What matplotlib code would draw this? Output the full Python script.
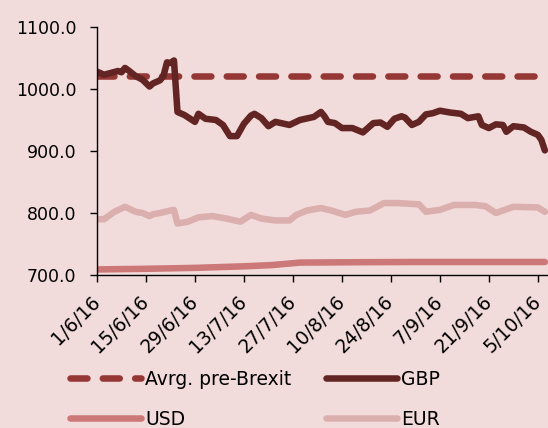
import numpy as np
import pandas as pd
import matplotlib
matplotlib.use('Agg')
import matplotlib.pyplot as plt

# values
gbp_dates = ['2016-06-01', '2016-06-03', '2016-06-05', '2016-06-07', '2016-06-08', '2016-06-09',
             '2016-06-10', '2016-06-12', '2016-06-14', '2016-06-16', '2016-06-17', '2016-06-19',
             '2016-06-20', '2016-06-21', '2016-06-22', '2016-06-23', '2016-06-24', '2016-06-26',
             '2016-06-29', '2016-06-30', '2016-07-02', '2016-07-05', '2016-07-07', '2016-07-09',
             '2016-07-11', '2016-07-13', '2016-07-15', '2016-07-16', '2016-07-18', '2016-07-20',
             '2016-07-22', '2016-07-26', '2016-07-29', '2016-08-02', '2016-08-04', '2016-08-05',
             '2016-08-06', '2016-08-08', '2016-08-10', '2016-08-13', '2016-08-16', '2016-08-19',
             '2016-08-21', '2016-08-23', '2016-08-25', '2016-08-27', '2016-08-28', '2016-08-30',
             '2016-09-01', '2016-09-03', '2016-09-05', '2016-09-07', '2016-09-10', '2016-09-13',
             '2016-09-15', '2016-09-18', '2016-09-19', '2016-09-21', '2016-09-23', '2016-09-25',
             '2016-09-26', '2016-09-28', '2016-10-01', '2016-10-03', '2016-10-05', '2016-10-06',
             '2016-10-07']
gbp_values = [1028, 1023, 1026, 1029, 1027, 1034,
              1030, 1021, 1015, 1004, 1009, 1014,
              1021, 1043, 1042, 1046, 963, 958,
              947, 960, 952, 950, 942, 924,
              924, 944, 957, 960, 953, 940,
              947, 942, 950, 955, 963, 956,
              947, 945, 937, 937, 930, 945,
              946, 939, 952, 956, 954, 942,
              947, 959, 961, 965, 962, 960,
              953, 956, 942, 937, 943, 942,
              931, 940, 938, 931, 926, 918,
              901]

eur_dates = ['2016-06-01', '2016-06-03', '2016-06-06', '2016-06-09', '2016-06-12', '2016-06-14',
             '2016-06-16', '2016-06-17', '2016-06-19', '2016-06-22', '2016-06-23', '2016-06-24',
             '2016-06-27', '2016-06-30', '2016-07-04', '2016-07-08', '2016-07-12', '2016-07-15',
             '2016-07-18', '2016-07-22', '2016-07-26', '2016-07-28', '2016-07-31', '2016-08-04',
             '2016-08-07', '2016-08-11', '2016-08-14', '2016-08-18', '2016-08-22', '2016-08-26',
             '2016-08-29', '2016-09-01', '2016-09-03', '2016-09-07', '2016-09-11', '2016-09-17',
             '2016-09-20', '2016-09-23', '2016-09-28', '2016-10-05', '2016-10-07']
eur_values = [790, 790, 802, 810, 802, 800,
              795, 798, 800, 804, 805, 783,
              786, 793, 795, 791, 786, 797,
              791, 788, 788, 797, 804, 808,
              804, 797, 802, 804, 816, 816,
              815, 814, 802, 805, 813, 813,
              811, 800, 810, 809, 802]

usd_dates = ['2016-06-01', '2016-06-15', '2016-06-29', '2016-07-13', '2016-07-21', '2016-07-29',
             '2016-08-10', '2016-08-30', '2016-09-19', '2016-10-07']
usd_values = [709, 710, 711.5, 714, 716, 720, 720.5, 721, 721, 721]

avg_pre_brexit = 1021

tick_dates = ['2016-06-01', '2016-06-15', '2016-06-29', '2016-07-13', '2016-07-27',
              '2016-08-10', '2016-08-24', '2016-09-07', '2016-09-21', '2016-10-05']
tick_labels = ['1/6/16', '15/6/16', '29/6/16', '13/7/16', '27/7/16',
               '10/8/16', '24/8/16', '7/9/16', '21/9/16', '5/10/16']

bg = '#F2DCDB'
c_avg = '#953735'
c_gbp = '#632523'
c_usd = '#CC7878'
c_eur = '#DCAFAF'
lw = 4.7

plt.rcParams['font.family'] = 'DejaVu Sans'

fig = plt.figure(figsize=(5.48, 4.28), dpi=100, facecolor=bg)
ax = fig.add_axes([97 / 548, 1 - 275 / 428, 1 - 97 / 548, (275 - 27) / 428])
ax.set_facecolor(bg)

gbp_x = pd.to_datetime(gbp_dates)
eur_x = pd.to_datetime(eur_dates)
usd_x = pd.to_datetime(usd_dates)

avg_line, = ax.plot([gbp_x[0], gbp_x[-1]], [avg_pre_brexit, avg_pre_brexit], color=c_avg, lw=lw,
                    dashes=(2.6, 2.35), dash_capstyle='round', label='Avrg. pre-Brexit')
gbp_line, = ax.plot(gbp_x, gbp_values, color=c_gbp, lw=lw, solid_joinstyle='round',
                    solid_capstyle='round', label='GBP')
usd_line, = ax.plot(usd_x, usd_values, color=c_usd, lw=lw, solid_capstyle='round', label='USD')
eur_line, = ax.plot(eur_x, eur_values, color=c_eur, lw=lw, solid_joinstyle='round',
                    solid_capstyle='round', label='EUR')

start = pd.Timestamp('2016-06-01')
ax.set_xlim(start, start + pd.Timedelta(days=128.9))
ax.set_ylim(700, 1100)
ax.set_yticks([700, 800, 900, 1000, 1100])
ax.set_yticklabels(['%.1f' % v for v in [700, 800, 900, 1000, 1100]])
ax.set_xticks(pd.to_datetime(tick_dates))
ax.set_xticklabels(tick_labels, rotation=45, ha='right', va='center', rotation_mode='anchor')

for s in ['top', 'right']:
    ax.spines[s].set_visible(False)
for s in ['left', 'bottom']:
    ax.spines[s].set_linewidth(1.0)
ax.tick_params(axis='both', direction='out', length=5, width=1.0, colors='black')
ax.tick_params(axis='y', pad=10, labelsize=12.5)
ax.tick_params(axis='x', pad=12, labelsize=13.5)

fig.legend(handles=[avg_line, usd_line, gbp_line, eur_line],
           labels=['Avrg. pre-Brexit', 'USD', 'GBP', 'EUR'],
           ncol=2, frameon=False, fontsize=13.5, loc='upper left',
           bbox_to_anchor=(70 / 548, 1 - 370 / 428), handlelength=3.8, handletextpad=0.2,
           columnspacing=1.85, labelspacing=1.1, borderaxespad=0, borderpad=0)

fig.savefig('out.png', dpi=100, facecolor=bg)
